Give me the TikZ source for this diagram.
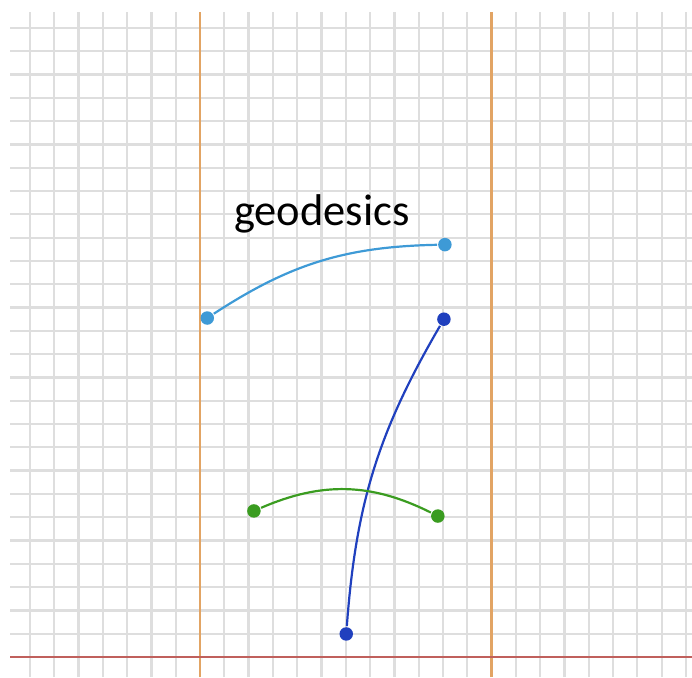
\documentclass[tikz,border=0pt]{standalone}
\usepackage{fontspec}
\setmainfont{Carlito}
\definecolor{geoLight}{RGB}{62,154,214}
\definecolor{geoDark}{RGB}{32,64,190}
\definecolor{geoGreen}{RGB}{58,156,32}
\definecolor{wallOrange}{RGB}{226,164,100}
\definecolor{floorRed}{RGB}{192,96,92}
\begin{document}
\begin{tikzpicture}[x=0.486cm,y=0.466cm,line width=1.2pt,
  pt/.style={circle,inner sep=0pt,minimum size=0.27cm},
  geo/.style={line width=1.25pt}]
  \useasboundingbox (-8.23,-0.86) rectangle (20.25,28.2);
  \draw[black!13,line width=1.3pt,step=1] (-7.8,-0.86) grid (20.25,27.68);
  \draw[wallOrange,line width=1.4pt] (0,-0.86) -- (0,27.68);
  \draw[wallOrange,line width=1.4pt] (12,-0.86) -- (12,27.68);
  \draw[floorRed] (-7.8,0) -- (20.25,0);
  % endpoints
  \node[pt,fill=geoLight] (a1) at (0.30,14.55) {};
  \node[pt,fill=geoLight] (a2) at (10.08,17.7) {};
  \node[pt,fill=geoDark] (b1) at (6.02,0.99) {};
  \node[pt,fill=geoDark] (b2) at (10.04,14.5) {};
  \node[pt,fill=geoGreen] (c1) at (2.22,6.27) {};
  \node[pt,fill=geoGreen] (c2) at (9.79,6.05) {};
  % geodesics
  \draw[geo,geoLight] (a1) to[bend left=16] (a2);
  \draw[geo,geoDark] (b1) to[bend left=13] (b2);
  \draw[geo,geoGreen] (c1) to[bend left=25] (c2);
  \node[anchor=base,inner sep=0pt,font=\fontsize{25.3}{30}\selectfont] (title) at (5.02,18.5) {geodesics};
\end{tikzpicture}
\end{document}
